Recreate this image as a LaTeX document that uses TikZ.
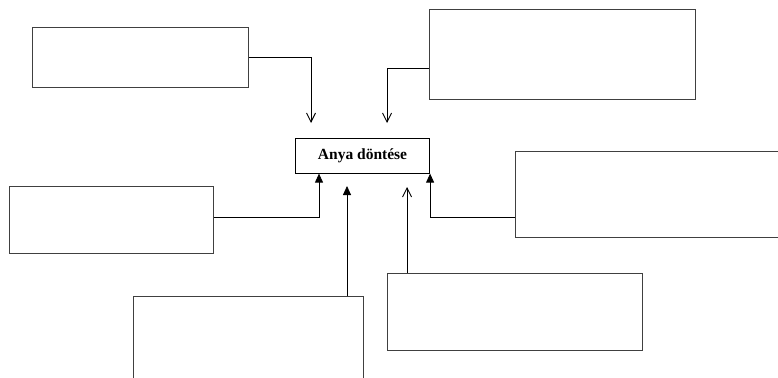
\documentclass[tikz,border=0pt]{standalone}
\usepackage{fontspec}
\setmainfont{Liberation Serif}
\usetikzlibrary{arrows.meta}
\begin{document}
\begin{tikzpicture}[x=1pt,y=-1pt,
  box/.style={draw=black!75,line width=1.1pt,fill=white,anchor=north west,inner sep=0pt},
  conn/.style={draw=black,line width=0.9pt},
  openarrow/.style={conn,-{Straight Barb[length=9pt,width=9pt,line width=0.9pt]}},
  filledarrow/.style={conn,-{Triangle[length=9pt,width=8pt]}}]
\useasboundingbox (0,0) rectangle (778,377);
\clip (0,0) rectangle (778,377);
\node[box,minimum width=216pt,minimum height=60pt] (A) at (32,27) {};
\node[box,minimum width=266pt,minimum height=90pt] (B) at (429,9) {};
\node[box,draw=black,minimum width=134pt,minimum height=35pt,font=\bfseries\fontsize{15.5}{18}\selectfont] (M) at (295,137.5) {Anya döntése};
\node[box,minimum width=204pt,minimum height=67pt] (C) at (9,186) {};
\node[box,minimum width=280pt,minimum height=86pt] (D) at (515,151) {};
\node[box,minimum width=230pt,minimum height=100pt] (E) at (133,296) {};
\node[box,minimum width=255pt,minimum height=77pt] (F) at (387,273) {};
\coordinate (a1) at (311,123);
\coordinate (b1) at (387,123);
\coordinate (e1) at (347,186);
\coordinate (f1) at (407,187);
\draw[openarrow] (A.east) -| (a1);
\draw[openarrow] ([yshift=-14pt]B.west) -| (b1);
\draw[filledarrow] ([yshift=2.5pt]C.east) -| ([xshift=24pt]M.south west);
\draw[filledarrow] ([yshift=-23pt]D.west) -| (M.south east);
\draw[filledarrow] (E.north -| e1) -- (e1);
\draw[openarrow] (F.north -| f1) -- (f1);
\end{tikzpicture}
\end{document}
